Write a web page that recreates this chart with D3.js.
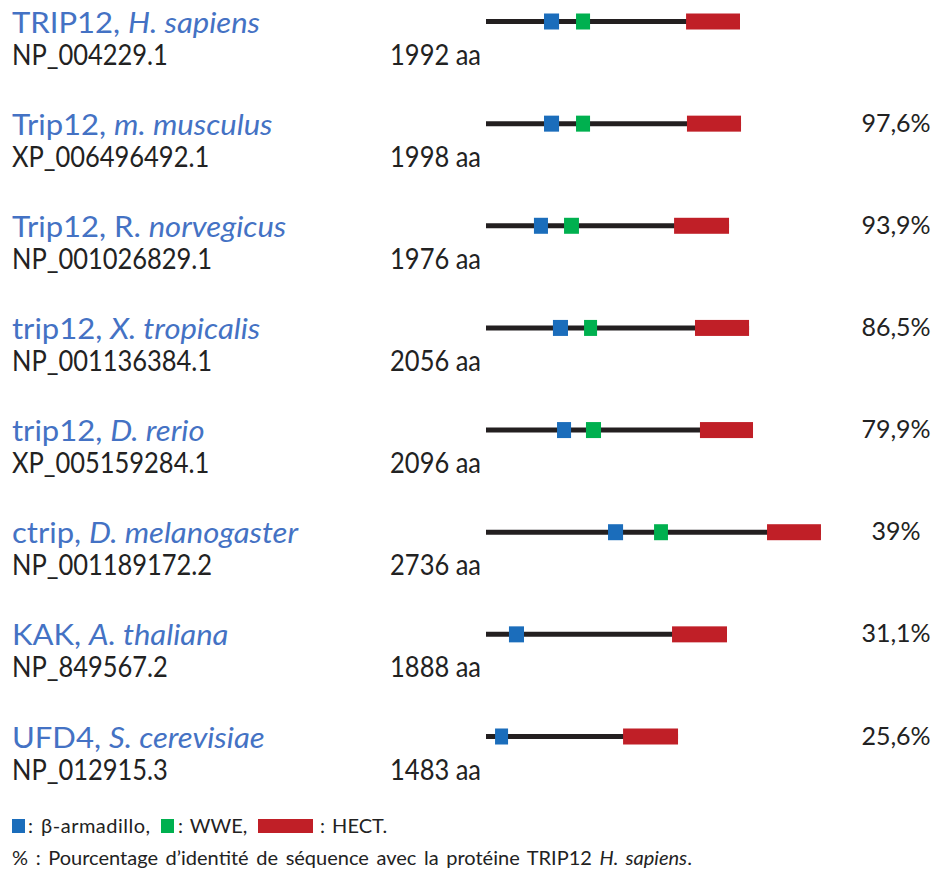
<!DOCTYPE html>
<html lang="fr">
<head>
<meta charset="UTF-8">
<title>TRIP12 orthologues</title>
<style>
  html, body { margin: 0; padding: 0; background: #fff; }
  svg text { font-family: Lato, "Noto Sans", sans-serif; }
</style>
</head>
<body>
<svg id="chart" width="936" height="870"></svg>
<script src="https://d3js.org/d3.v7.min.js"></script>
<script>
// noms : partie droite (gène) + partie en italique (espèce)
const genes = ['TRIP12, ', 'Trip12, ', 'Trip12, R. ', 'trip12, ', 'trip12, ', 'ctrip, ', 'KAK, ', 'UFD4, '];
const speciesIt = ['H. sapiens', 'm. musculus', 'norvegicus', 'X. tropicalis', 'D. rerio', 'D. melanogaster', 'A. thaliana', 'S. cerevisiae'];
const accessions = ['NP_004229.1', 'XP_006496492.1', 'NP_001026829.1', 'NP_001136384.1', 'XP_005159284.1', 'NP_001189172.2', 'NP_849567.2', 'NP_012915.3'];
const lengths = [1992, 1998, 1976, 2056, 2096, 2736, 1888, 1483];
const identity = [null, 97.6, 93.9, 86.5, 79.9, 39, 31.1, 25.6];

// positions des domaines (aa)
const armadillo = [[455, 573], [455, 573], [376, 486], [525, 643], [557, 667], [957, 1075], [180, 298], [71, 173]];
const wwe = [[706, 816], [706, 816], [612, 729], [769, 871], [784, 902], [1318, 1427], null, null];
const hect = [[1569, 1992], [1576, 2000], [1475, 1906], [1639, 2063], [1678, 2094], [2204, 2627], [1459, 1890], [1075, 1506]];

const colors = { arm: '#1b6dbb', wwe: '#00b04f', hect: '#c01f27', line: '#231f20', title: '#4472c4', text: '#222' };

const svg = d3.select('#chart');
const x = d3.scaleLinear().domain([0, 1992]).range([486, 740]);
const y = d3.scaleLinear().domain([0, 7]).range([21.5, 736.5]);

const rows = d3.range(genes.length).map(i => ({
  i, gene: genes[i], sp: speciesIt[i], acc: accessions[i], len: lengths[i],
  id: identity[i], arm: armadillo[i], wwe: wwe[i], hect: hect[i]
}));

const g = svg.selectAll('g.row').data(rows).enter().append('g')
  .attr('class', 'row')
  .attr('transform', d => `translate(0,${y(d.i)})`);

// titre
const title = g.append('text')
  .attr('transform', 'translate(12,11) scale(1.07,1)')
  .attr('font-size', 29)
  .attr('fill', colors.title);
title.append('tspan').text(d => d.gene);
title.append('tspan').attr('font-style', 'italic').text(d => d.sp);

// accession
g.append('text')
  .attr('transform', 'translate(12,43) scale(0.91,1)')
  .attr('font-size', 28)
  .attr('fill', colors.text)
  .text(d => d.acc);

// longueur
g.append('text')
  .attr('transform', 'translate(481,43) scale(0.91,1)')
  .attr('text-anchor', 'end')
  .attr('font-size', 28)
  .attr('fill', colors.text)
  .text(d => d.len + ' aa');

// pourcentage
g.filter(d => d.id != null).append('text')
  .attr('transform', 'translate(896,8)')
  .attr('text-anchor', 'middle')
  .attr('font-size', 25)
  .attr('fill', colors.text)
  .text(d => String(d.id).replace('.', ',') + '%');

// protéine
g.append('line')
  .attr('x1', x(0)).attr('x2', d => x(d.hect[1]))
  .attr('y1', 0).attr('y2', 0)
  .attr('stroke', colors.line).attr('stroke-width', 5);

const box = (sel, key, col) => sel.filter(d => d[key] != null).append('rect')
  .attr('x', d => x(d[key][0]))
  .attr('width', d => x(d[key][1]) - x(d[key][0]))
  .attr('y', -8).attr('height', 16)
  .attr('fill', col);
box(g, 'hect', colors.hect);
box(g, 'arm', colors.arm);
box(g, 'wwe', colors.wwe);

// légende
const leg = svg.append('g').attr('transform', 'translate(0,826)');
const legItems = [
  { col: colors.arm, x: 12, w: 13, label: ': β-armadillo,', tx: 28, ls: 0.5 },
  { col: colors.wwe, x: 161, w: 13, label: ': WWE,', tx: 178, ls: 0 },
  { col: colors.hect, x: 258, w: 55, label: ': HECT.', tx: 320, ls: 0 }
];
legItems.forEach(it => {
  leg.append('rect').attr('x', it.x).attr('y', -7).attr('width', it.w).attr('height', 14).attr('fill', it.col);
  leg.append('text')
    .attr('transform', `translate(${it.tx},7)`)
    .attr('font-size', 20).attr('fill', colors.text)
    .attr('letter-spacing', it.ls).attr('word-spacing', 2)
    .text(it.label);
});

const foot = svg.append('text')
  .attr('transform', 'translate(12,865)')
  .attr('font-size', 20).attr('fill', colors.text)
  .attr('word-spacing', 2.5);
foot.append('tspan').text('% : Pourcentage d’identité de séquence avec la protéine TRIP12 ');
foot.append('tspan').attr('font-style', 'italic').text('H. sapiens');
foot.append('tspan').text('.');
</script>
</body>
</html>
